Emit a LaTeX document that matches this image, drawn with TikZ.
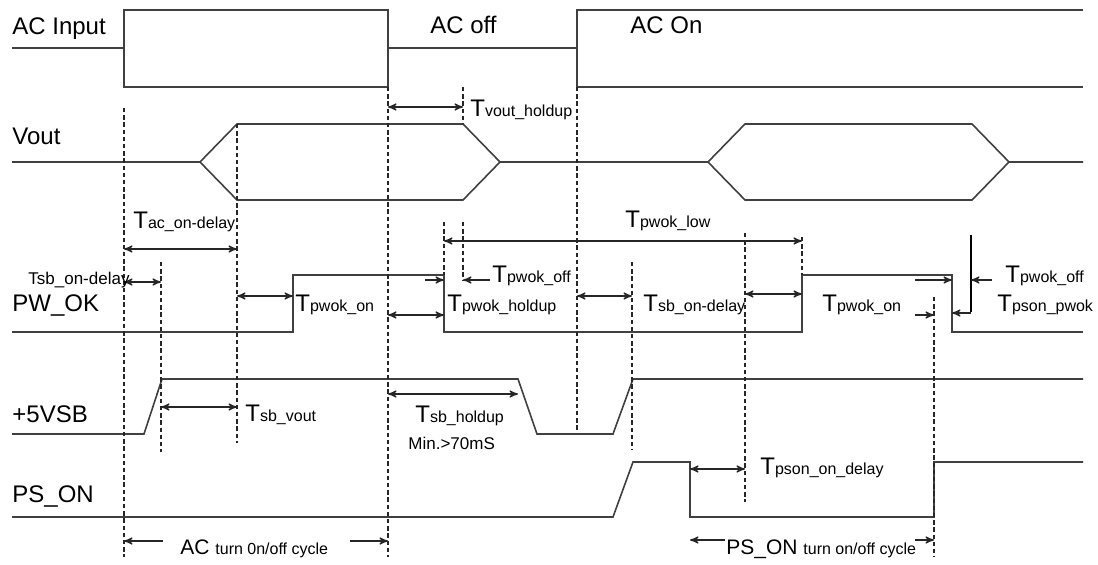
\documentclass[tikz,border=0pt]{standalone}
\usepackage{fontspec}
\setmainfont{Liberation Sans}
\usetikzlibrary{arrows}

\newcommand{\subf}{\fontsize{8}{9}\selectfont}
\newcommand{\tm}[1]{T{\subf #1}}

\begin{document}
\begin{tikzpicture}[x=0.5pt,y=-0.5pt,>=stealth',
    wave/.style={line width=0.8pt,black!75},
    guide/.style={dash pattern=on 2.2pt off 1.4pt,line width=0.7pt,black!85},
    dim/.style={<->,line width=0.6pt,black!85},
    sig/.style={anchor=base west,inner sep=0pt,font=\fontsize{12}{14}\selectfont},
    small/.style={anchor=base west,inner sep=0pt,font=\fontsize{8.5}{10}\selectfont}]

\useasboundingbox (0,0) rectangle (1098,565);

% event times
\coordinate (acup) at (124,0);
\coordinate (sbup) at (161,0);
\coordinate (vup) at (237,0);
\coordinate (pgup) at (293,0);
\coordinate (acdn) at (388,0);
\coordinate (pgdn) at (444,0);
\coordinate (vdn) at (463,0);
\coordinate (sbdn) at (518,0);
\coordinate (acup2) at (577,0);
\coordinate (sbup2) at (632,0);
\coordinate (psdn) at (690,0);
\coordinate (psdly) at (745,0);
\coordinate (pgup2) at (802,0);
\coordinate (psup) at (934,0);
\coordinate (pgdn2) at (952,0);
\coordinate (pgref) at (971,0);

% signal names
\node[sig] (l-ac) at (12,35) {AC Input};
\node[sig] (l-acoff) at (430,34) {AC off};
\node[sig] (l-acon) at (630,34) {AC On};
\node[sig] (l-vout) at (12,145) {Vout};
\node[sig] (l-pwok) at (12,312) {PW\_OK};
\node[sig] (l-vsb) at (12,423) {+5VSB};
\node[sig] (l-pson) at (12,503) {PS\_ON};

% waveforms
\draw[wave] (12,48) -- (124,48) (124,10) rectangle (388,87) (388,48) -- (577,48)
  (1083,10) -- (577,10) -- (577,87) -- (1083,87);
\draw[wave] (12,162) -- (200,162) -- (237,124) -- (463,124) -- (500,162) -- (708,162)
  -- (745,124) -- (972,124) -- (1009,162) -- (1083,162)
  (200,162) -- (237,200) -- (463,200) -- (500,162)
  (708,162) -- (745,200) -- (972,200) -- (1009,162);
\draw[wave] (12,332) -- (293,332) -- (293,275) -- (444,275) -- (444,332) -- (802,332)
  -- (802,275) -- (952,275) -- (952,332) -- (1083,332);
\draw[wave] (12,434) -- (144,434) -- (162,379) -- (518,379) -- (537,434) -- (613,434)
  -- (633,379) -- (1083,379);
\draw[wave] (12,517) -- (613,517) -- (633,462) -- (690,462) -- (690,517) -- (934,517)
  -- (934,462) -- (1083,462);

% guide lines
\foreach \e/\a/\b in {acup/108/557, sbup/262/452, vup/124/443, acdn/87/557,
    pgdn/222/275, vdn/87/124, vdn/222/280, acup2/87/432, sbup2/262/450,
    psdly/233/502, pgup2/237/275, psup/297/557}
  \draw[guide] (\e |- 0,\a) -- (\e |- 0,\b);
\draw[line width=0.6pt] (pgref |- 0,235) -- (pgref |- 0,312);

% timing arrows
\draw[dim] (acdn |- 0,107) -- (vdn |- 0,107);
\draw[dim] (acup |- 0,249) -- (vup |- 0,249);
\draw[dim] (acup |- 0,282) -- (sbup |- 0,282);
\draw[dim] (vup |- 0,296) -- (pgup |- 0,296);
\draw[dim] (acdn |- 0,315) -- (pgdn |- 0,315);
\draw[dim] (pgdn |- 0,241) -- (pgup2 |- 0,241);
\draw[dim] (acup2 |- 0,296) -- (sbup2 |- 0,296);
\draw[dim] (psdly |- 0,294) -- (pgup2 |- 0,294);
\draw[dim] (sbup |- 0,407) -- (vup |- 0,407);
\draw[dim] (acdn |- 0,394) -- (sbdn |- 0,394);
\draw[dim] (psdn |- 0,469) -- (psdly |- 0,469);
\draw[dim,<-] (pgdn |- 0,280) -- ++(-19,0);
\draw[dim,<-] (vdn |- 0,280) -- ++(27,0);
\draw[dim,<-] (pgdn2 |- 0,280) -- ++(-37,0);
\draw[dim,<-] (pgref |- 0,280) -- ++(21,0);
\draw[dim,<-] (psup |- 0,315) -- ++(-19,0);
\draw[dim,<-] (pgdn2 |- 0,313) -- ++(19,0);
\draw[dim,<-] (acup |- 0,541) -- ++(39,0);
\draw[dim,<-] (acdn |- 0,541) -- ++(-38,0);
\draw[dim,<-] (psdn |- 0,540) -- ++(35,0);
\draw[dim,<-] (psup |- 0,540) -- ++(-19,0);

% timing names
\node[sig] (t-vhold) at (470,117) {\tm{vout\_holdup}};
\node[sig] (t-acdly) at (133,229) {\tm{ac\_on-delay}};
\node[small] (t-sbdly) at (28,285) {Tsb\_on-delay};
\node[sig] (t-pgon) at (295,312) {\tm{pwok\_on}};
\node[sig] (t-pgoff) at (492,283) {\tm{pwok\_off}};
\node[sig] (t-pghold) at (447,312) {\tm{pwok\_holdup}};
\node[sig] (t-pglow) at (625,228) {\tm{pwok\_low}};
\node[sig] (t-sbdly2) at (643,312) {\tm{sb\_on-delay}};
\node[sig] (t-pgon2) at (822,312) {\tm{pwok\_on}};
\node[sig] (t-pgoff2) at (1005,283) {\tm{pwok\_off}};
\node[sig] (t-pspg) at (997,312) {\tm{pson\_pwok}};
\node[sig] (t-sbv) at (245,422) {\tm{sb\_vout}};
\node[sig] (t-sbhold) at (415,423) {\tm{sb\_holdup}};
\node[small] (t-min) at (408,450) {Min.>70mS};
\node[sig] (t-psdly) at (760,475) {\tm{pson\_on\_delay}};
\node[sig,font=\fontsize{10.5}{12}\selectfont] (t-accyc) at (180,555) {AC {\subf turn 0n/off cycle}};
\node[sig,font=\fontsize{10.5}{12}\selectfont] (t-pscyc) at (726,555) {PS\_ON {\subf turn on/off cycle}};

\end{tikzpicture}
\end{document}
